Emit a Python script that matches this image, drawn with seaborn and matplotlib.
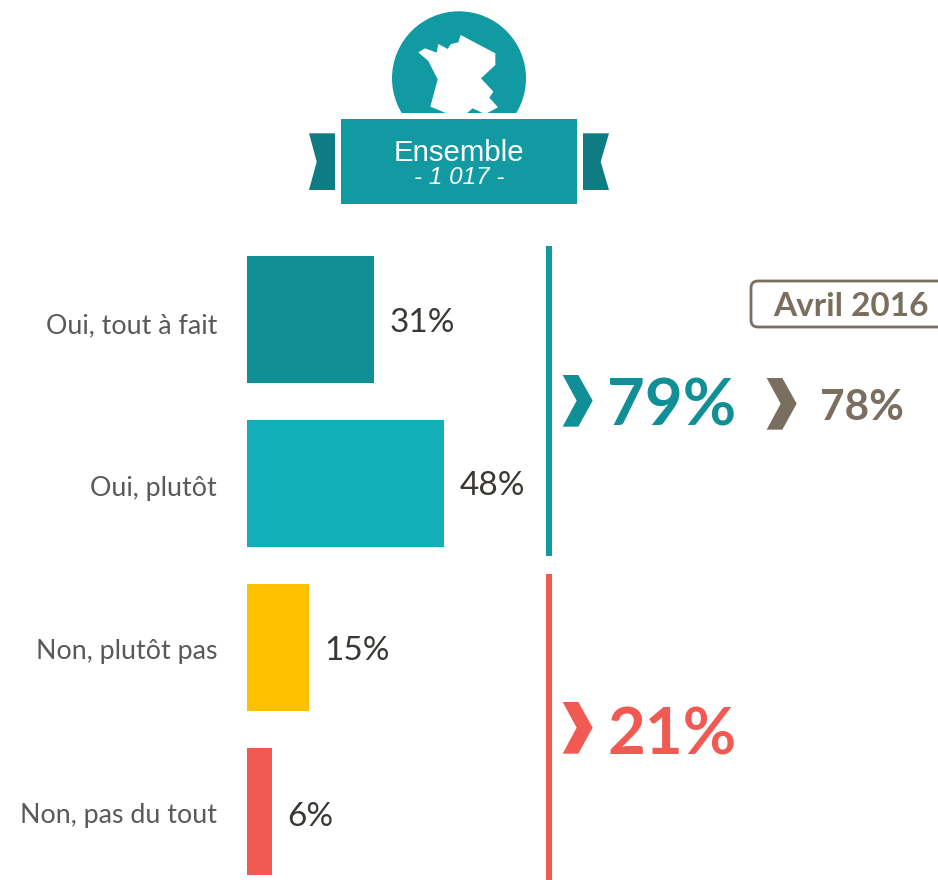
import matplotlib
matplotlib.use("Agg")
import matplotlib.pyplot as plt
from matplotlib.patches import Circle, FancyBboxPatch, Polygon, Rectangle
from matplotlib.transforms import ScaledTranslation
import pandas as pd
import seaborn as sns

answers = ["Oui, tout à fait", "Oui, plutôt", "Non, plutôt pas", "Non, pas du tout"]
values = [31, 48, 15, 6]
bar_colors = ["#118F96", "#13AFB8", "#FFC000", "#F15A52"]

total_yes = "79%"
total_no = "21%"
previous_label = "Avril 2016"
previous_yes = "78%"

TEAL = "#129AA3"
DARK_TEAL = "#0F7C84"
RED = "#F15A52"
BROWN = "#7A6E5E"

sns.set_theme(style="white")
plt.rcParams["font.family"] = ["Lato", "DejaVu Sans"]

W, H = 938, 880
fig = plt.figure(figsize=(W / 100, H / 100), dpi=100)

# bars, 4.11 px per percent, 164 px per category
ax = fig.add_axes([247 / W, 0, (W - 247) / W, (H - 237.5) / H])
df = pd.DataFrame({"answer": answers, "value": values})
sns.barplot(data=df, x="value", y="answer", hue="answer", palette=bar_colors,
            width=127 / 164, saturation=1, linewidth=0, legend=False, ax=ax)
ax.set_xlim(0, (W - 247) / 4.11)
ax.set_ylim((H - 237.5) / 164 - 0.5, -0.5)
ax.set_xlabel("")
ax.set_ylabel("")
ax.set_xticks([])
ax.tick_params(axis="y", length=0, pad=21.5, labelsize=19.3, labelcolor="#595959")
sns.despine(ax=ax, left=True, bottom=True)
ax.patch.set_alpha(0)

# the source labels do not sit exactly on the bar centres
for label, shift in zip(ax.get_yticklabels(), [4, 3, 2, 1]):
    label.set_transform(label.get_transform()
                        + ScaledTranslation(0, -shift / 100, fig.dpi_scale_trans))

for c, shift in zip(ax.containers, [4, 3, 4, 5]):
    for t in ax.bar_label(c, fmt="%g%%", padding=11, fontsize=24, color="#3B3833"):
        t.xyann = (t.xyann[0], -shift * 0.72)

# overlay in pixel coords for the decorations
deco = fig.add_axes([0, 0, 1, 1], zorder=3)
deco.set_xlim(0, W)
deco.set_ylim(H, 0)
deco.axis("off")


def zoomed(points, x0, y0):
    return [(x0 + px / 3, y0 + py / 3) for px, py in points]


# badge
clip = Rectangle((380, 0), 160, 113.5, transform=deco.transData)
disc = Circle((459, 78.3), 67, color=TEAL, lw=0)
deco.add_patch(disc)
disc.set_clip_path(clip)
france = [(385, 157), (405, 145), (440, 158), (445, 132), (473, 147), (483, 132),
          (505, 127), (512, 105), (616, 160), (616, 195), (573, 235), (610, 275),
          (598, 293), (624, 322), (590, 340), (580, 340), (548, 325), (530, 340),
          (470, 340), (421, 320), (443, 238), (415, 183)]
deco.add_patch(Polygon(zoomed(france, 290, 0), color="white", lw=0))
deco.add_patch(Rectangle((341, 119), 236, 85, color=TEAL, lw=0))
deco.add_patch(Polygon([(309, 133.3), (335, 133.3), (335, 190), (309, 190), (316.7, 161.7)],
                       color=DARK_TEAL, lw=0))
deco.add_patch(Polygon([(583, 133.3), (609, 133.3), (600.7, 161.7), (609, 190), (583, 190)],
                       color=DARK_TEAL, lw=0))
deco.text(459, 153, "Ensemble", color="white", fontsize=21.2, ha="center", va="center",
          family="Liberation Sans")
deco.text(459, 177, "- 1 017 -", color="white", fontsize=17.5, style="italic", ha="center",
          va="center", family="Liberation Sans")

# brackets
deco.add_patch(Rectangle((546, 246), 6, 310, color=TEAL, lw=0))
deco.add_patch(Rectangle((546, 574), 6, 306, color=RED, lw=0))

# chevrons
chevron = [(98, 345), (145, 345), (188, 422), (145, 500), (98, 500), (140, 422)]
deco.add_patch(Polygon(zoomed(chevron, 530, 260), color="#108F97", lw=0))
deco.add_patch(Polygon(zoomed(chevron, 530, 587), color=RED, lw=0))
deco.add_patch(Polygon(zoomed(chevron, 530 + 204, 263), color=BROWN, lw=0))

deco.text(607, 407, total_yes, color="#108F97", fontsize=47, fontweight="bold", va="center")
deco.text(607, 736, total_no, color=RED, fontsize=47, fontweight="bold", va="center")
deco.text(820, 408, previous_yes, color=BROWN, fontsize=30.5, fontweight="bold", va="center")

# previous wave tag, runs off the right edge
deco.add_patch(FancyBboxPatch((751, 281), 206, 46, boxstyle="round,pad=0,rounding_size=7",
                              fc="white", ec=BROWN, lw=2, mutation_aspect=1))
deco.text(851, 306, previous_label, color=BROWN, fontsize=24, fontweight="bold",
          ha="center", va="center")

fig.savefig("out.png", dpi=100)
